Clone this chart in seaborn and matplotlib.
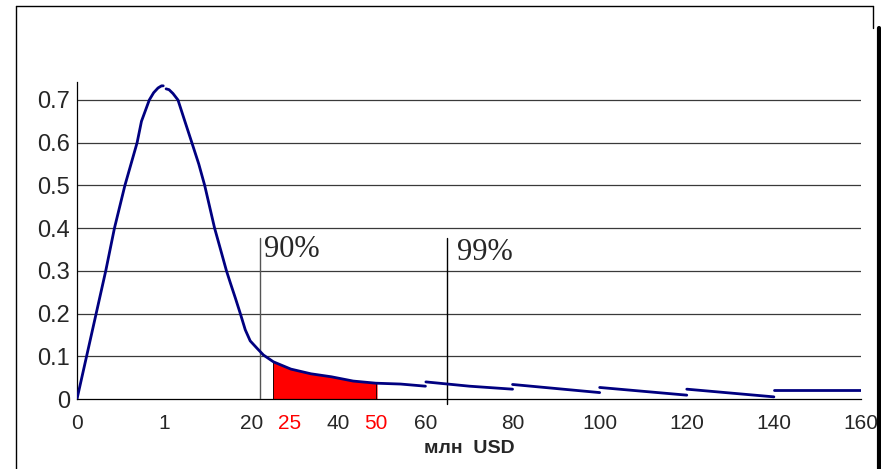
import numpy as np
import pandas as pd
import matplotlib
matplotlib.use("Agg")
import matplotlib.pyplot as plt
from matplotlib.lines import Line2D
import seaborn as sns

# ось X нелинейная: метки стоят через равные промежутки
tick_vals = [0, 1, 20, 40, 60, 80, 100, 120, 140, 160]
tick_labels = ["0", "1", "20", "40", "60", "80", "100", "120", "140", "160"]
y_ticks = [0, 0.1, 0.2, 0.3, 0.4, 0.5, 0.6, 0.7]
y_labels = ["0", "0.1", "0.2", "0.3", "0.4", "0.5", "0.6", "0.7"]

# кривая плотности, по кускам (млн USD, плотность)
seg_a_x = [0, 0.11, 0.22, 0.33, 0.43, 0.55, 0.69, 0.74, 0.83, 0.88, 0.93, 0.97, 0.99]
seg_a_y = [0, 0.10, 0.20, 0.30, 0.40, 0.50, 0.60, 0.65, 0.70, 0.717, 0.728, 0.733, 0.733]
seg_b_x = [1.43, 2.08, 2.94, 4.02, 5.53, 7.05, 8.56, 9.85, 10.93, 12.01, 13.31, 14.60,
           15.47, 16.55, 17.62, 18.70, 19.78, 21.4, 22.8, 25.1, 29.1, 33.7, 38.4, 43.4,
           48.6, 54.3, 60.0]
seg_b_y = [0.726, 0.724, 0.715, 0.70, 0.65, 0.60, 0.55, 0.50, 0.45, 0.40, 0.35, 0.30,
           0.271, 0.236, 0.20, 0.162, 0.136, 0.118, 0.103, 0.087, 0.070, 0.059, 0.052, 0.042,
           0.037, 0.035, 0.030]
seg_c_x = [60.1, 65.1, 70.1, 80.0]
seg_c_y = [0.040, 0.035, 0.030, 0.023]
seg_d_x = [80, 100]
seg_d_y = [0.034, 0.015]
seg_e_x = [100, 120]
seg_e_y = [0.027, 0.009]
seg_f_x = [120, 140]
seg_f_y = [0.023, 0.005]
seg_g_x = [140, 160]
seg_g_y = [0.021, 0.021]

# закрашенная область и квантили
fill_lo, fill_hi = 25.1, 48.7
q90, q99 = 22.1, 65.0
q_top = 0.377
red_labels = ["25", "50"]
red_label_x = [28.9, 48.7]

segs = [(seg_a_x, seg_a_y), (seg_b_x, seg_b_y), (seg_c_x, seg_c_y), (seg_d_x, seg_d_y),
        (seg_e_x, seg_e_y), (seg_f_x, seg_f_y), (seg_g_x, seg_g_y)]
df = pd.concat([pd.DataFrame({"usd": sx, "dens": sy, "seg": i}) for i, (sx, sy) in enumerate(segs)],
               ignore_index=True)

sns.set_style("white")
plt.rcParams["font.family"] = ["Liberation Sans", "DejaVu Sans"]

pos = np.arange(len(tick_vals), dtype=float)
def fwd(x):
    return np.interp(x, tick_vals, pos)
def inv(p):
    return np.interp(p, pos, tick_vals)

W, H = 881, 469
fig = plt.figure(figsize=(W / 100, H / 100), dpi=100)
ax = fig.add_axes([77 / W, (H - 399) / H, (861 - 77) / W, (399 - 82) / H])
ax.set_xscale("function", functions=(fwd, inv))

# сетка
for yv in y_ticks[1:]:
    ax.axhline(yv, color="#3a3a3a", lw=0.9, zorder=1)

# красная область
xs = [fill_lo] + [v for v in seg_b_x if fill_lo < v < fill_hi] + [fill_hi]
ys = np.interp(xs, seg_b_x, seg_b_y)
ax.fill_between(xs, 0, ys, color="red", edgecolor="red", lw=1.2, zorder=2)
ax.vlines([fill_lo, fill_hi], 0, [ys[0], ys[-1]], color="black", lw=0.6, zorder=3)

sns.lineplot(data=df, x="usd", y="dens", units="seg", estimator=None, sort=False,
             color="#000080", lw=2.0, ax=ax, zorder=4)

# линии 90% и 99%
ax.plot([q90, q90], [0, q_top], color="#555555", lw=1.0, zorder=3)
ax.plot([q99, q99], [-0.012, q_top], color="black", lw=1.0, zorder=3, clip_on=False)
ax.text(22.9, 0.351, "90%", family="Liberation Serif", fontsize=22, va="center", ha="left")
ax.text(67.3, 0.342, "99%", family="Liberation Serif", fontsize=22, va="center", ha="left")

ax.set_xlim(0, 160)
ax.set_ylim(0, 0.742)
ax.set_xticks(tick_vals)
ax.set_xticklabels(tick_labels, fontsize=15)
ax.set_yticks(y_ticks)
ax.set_yticklabels(y_labels, fontsize=17)
ax.tick_params(axis="x", direction="out", length=4.5, width=0.8, color="black", pad=6)
ax.tick_params(axis="y", direction="out", length=5, width=0.8, color="black", pad=0)
for lab, xv in zip(red_labels, red_label_x):
    ax.annotate(lab, xy=(xv, 0), xycoords=("data", "axes fraction"), xytext=(0, -10.5),
                textcoords="offset points", color="red", fontsize=15, ha="center", va="top")
ax.set_xlabel("млн  USD", fontsize=14, fontweight="bold", labelpad=5)
ax.set_ylabel("")

for side in ["top", "right"]:
    ax.spines[side].set_visible(False)
ax.spines["left"].set_color("black")
ax.spines["bottom"].set_color("black")
ax.spines["left"].set_linewidth(0.9)
ax.spines["bottom"].set_linewidth(0.9)

# рамка вокруг рисунка
def fl(x0, y0, x1, y1, lw):
    fig.add_artist(Line2D([x0 / W, x1 / W], [1 - y0 / H, 1 - y1 / H], color="black", lw=lw))
fl(16, 6, 873, 6, 1.0)
fl(16, 6, 16, H, 1.0)
fl(873, 6, 873, 28, 1.0)
fl(878.5, 28, 878.5, H, 3.0)

fig.savefig("out.png", dpi=100)
